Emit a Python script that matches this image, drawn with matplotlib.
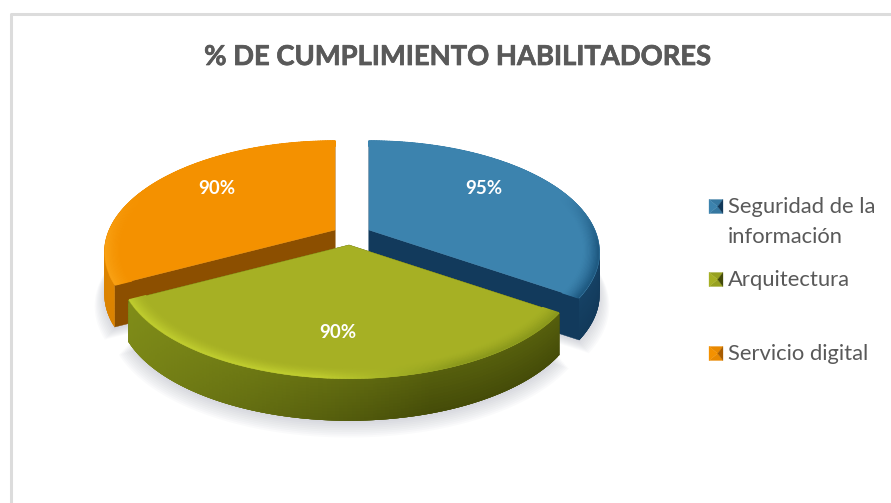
import numpy as np
import matplotlib
matplotlib.use("Agg")
import matplotlib.pyplot as plt
import matplotlib.patheffects as pe
from matplotlib.collections import PolyCollection, LineCollection
from matplotlib.colors import to_rgb

categorias = ["Seguridad de la\ninformación", "Arquitectura", "Servicio digital"]
valores = [95, 90, 90]
etiquetas = ["95%", "90%", "90%"]

# colores: superficie, brillo del borde, pared clara, pared oscura, corte
colores = [
    ("#3C83AE", "#4A93BD", "#1F5A82", "#12395A", "#123A5C"),
    ("#A6B024", "#BECB2E", "#8C9A1C", "#444B08", "#4A5008"),
    ("#F49100", "#F9A012", "#E88C00", "#A85C00", "#8C4F00"),
]
# vertice de cada porcion (despiece del pastel)
vertices = [(369, 230), (349, 245), (335, 230)]
pos_etiquetas = [(484, 188), (338, 332), (217, 188)]
pos_leyenda = [206.5, 279.5, 353.5]

RX, RY, K, PROF = 226, 107, 0.2, 42

plt.rcParams["font.family"] = ["Lato", "DejaVu Sans"]


def proyectar(ang, r, vert, d=0):
    # ang en grados desde arriba, sentido horario; perspectiva simple
    t = np.radians(ang)
    u, v = r * np.sin(t), -r * np.cos(t)
    esc = 1 / (1 - K * v)
    return vert[0] + RX * u * esc, vert[1] + RY * v * esc + d


def contorno(a0, a1, vert, r=1.0, d=0):
    angs = np.linspace(a0, a1, 120)
    x, y = proyectar(angs, r, vert, d)
    return np.vstack([[vert[0], vert[1] + d], np.column_stack([x, y])])


def mezcla(c1, c2, f):
    return tuple(np.array(to_rgb(c1)) * (1 - f) + np.array(to_rgb(c2)) * f)


def pared(ax, a0, a1, vert, col):
    # pared exterior en cuadritos solapados para que no se vean costuras
    angs = np.linspace(a0, a1, 140)
    hs = np.linspace(0, PROF, 15)
    polys, cols = [], []
    for i in range(len(angs) - 1):
        a = angs[i]
        b = angs[min(i + 2, len(angs) - 1)]
        for j in range(len(hs) - 1):
            h0 = hs[j]
            h1 = hs[min(j + 2, len(hs) - 1)]
            xa, ya = proyectar(a, 1, vert)
            xb, yb = proyectar(b, 1, vert)
            polys.append([(xa, ya + h0), (xb, yb + h0), (xb, yb + h1), (xa, ya + h1)])
            luz = np.clip((np.sin(np.radians(a)) + 0.9) / 1.2, 0, 1)
            f = np.clip(0.2 + 0.8 * luz, 0, 1) * (0.75 + 0.25 * h0 / PROF)
            cols.append(mezcla(col[2], col[3], f))
    ax.add_collection(PolyCollection(polys, facecolors=cols, edgecolors="none"))


def bisel(ax, a0, a1, vert, col):
    # borde suave solo en la parte delantera: brillo a la izquierda, oscuro a la derecha
    angs = np.linspace(a0, a1, 160)
    radios = np.linspace(0.93, 0.995, 14)
    for r in radios:
        peso = ((r - 0.93) / 0.065) ** 1.5
        x, y = proyectar(angs, r, vert)
        segs = [[(x[k], y[k]), (x[k + 1], y[k + 1])] for k in range(len(angs) - 1)]
        cols = []
        for a in angs[:-1]:
            t = np.radians(a)
            delante = np.clip((-np.cos(t) + 0.35) / 0.5, 0, 1)
            paso = np.clip((np.sin(t) + 0.1) / 0.5, 0, 1)
            destino = mezcla(col[1], col[2], paso)
            cols.append(mezcla(col[0], destino, peso * delante))
        ax.add_collection(LineCollection(segs, colors=cols, linewidths=1.3, capstyle="round"))


fig = plt.figure(figsize=(8.91, 5.03), dpi=100)
ax = fig.add_axes([0, 0, 1, 1])
ax.set_xlim(0, 891)
ax.set_ylim(503, 0)
ax.axis("off")

# marco del grafico
ax.plot([10.5, 10.5, 891], [503, 13.5, 13.5], color="#DCDCDC", lw=2.2, solid_capstyle="butt")

ax.text(458, 57, "% DE CUMPLIMIENTO HABILITADORES", ha="center", va="center",
        fontsize=19.7, fontweight="bold", color="#595959",
        path_effects=[pe.withStroke(linewidth=0.5, foreground="#595959")])

# angulos a partir de los valores
total = sum(valores)
cortes = np.concatenate([[0], np.cumsum(valores) / total * 360])

# sombra difusa
for i in [2, 0, 1]:
    for paso in range(9):
        ax.fill(*contorno(cortes[i], cortes[i + 1], vertices[i], 1.0 + paso * 0.005, PROF + 2 + paso).T,
                color="#7F8498", alpha=0.035, lw=0)

# primero naranja, luego azul, y el verde delante
for i in [2, 0, 1]:
    a0, a1 = cortes[i], cortes[i + 1]
    vert = vertices[i]
    col = colores[i]
    for a in (a0, a1):
        x, y = proyectar(a, 1, vert)
        ax.fill([vert[0], x, x, vert[0]], [vert[1], y, y + PROF, vert[1] + PROF],
                color=col[4], lw=0.3)
    pared(ax, a0, a1, vert, col)
    ax.fill(*contorno(a0, a1, vert).T, color=col[0], lw=0.3)
    bisel(ax, a0, a1, vert, col)
    ax.text(*pos_etiquetas[i], etiquetas[i], ha="center", va="center", color="white",
            fontsize=13.5, fontweight="bold")

# leyenda
for nombre, col, yc in zip(categorias, colores, pos_leyenda):
    lado = 14
    x0, x1 = 709, 709 + lado
    y0, y1 = yc - lado / 2, yc + lado / 2
    xm, ym = x0 + lado * 0.62, yc
    borde = mezcla(col[0], col[3], 0.15)
    ax.fill([x0, x1, xm], [y0, y0, ym], color=borde, lw=0.2)
    ax.fill([x0, x1, xm], [y1, y1, ym], color=borde, lw=0.2)
    ax.fill([x0, x0, xm], [y0, y1, ym], color=col[0], lw=0.2)
    ax.fill([x1, x1, xm], [y0, y1, ym], color=col[3], lw=0.2)
    for k, linea in enumerate(nombre.split("\n")):
        ax.text(728, yc + 0.5 + k * 30, linea, ha="left", va="center", fontsize=15.8, color="#595959")

fig.savefig("out.png", dpi=100)
